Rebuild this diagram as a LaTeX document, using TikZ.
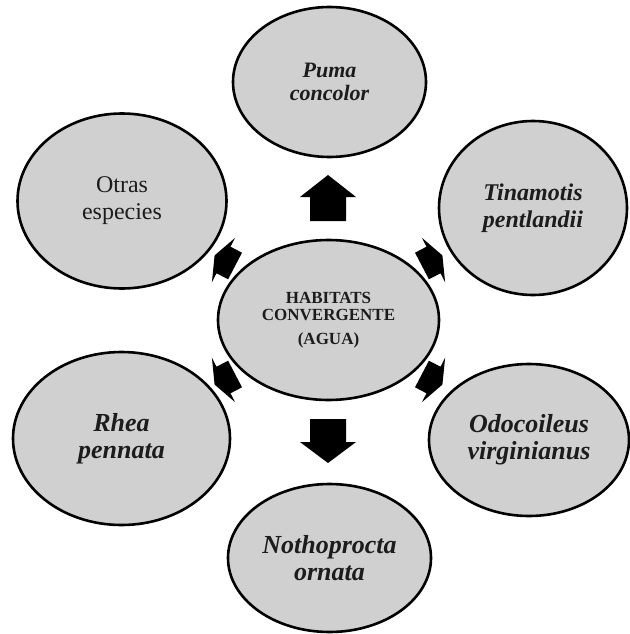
\documentclass[tikz,border=0pt]{standalone}
\usepackage{fontspec}
\setmainfont{Liberation Serif}
\usetikzlibrary{shapes.geometric}
\definecolor{ellfill}{RGB}{208,208,208}
\definecolor{txt}{RGB}{28,28,28}
\tikzset{
  oval/.style={ellipse, draw=black, line width=2.6pt, fill=ellfill, inner sep=0pt, align=center, text=txt},
  species/.style={oval, font=\bfseries\itshape\fontsize{26}{27}\selectfont},
  blockarr/.style={fill=black, draw=none},
}
\begin{document}
\begin{tikzpicture}[x=1pt,y=-1pt]
\useasboundingbox (0,0) rectangle (629,634);
% central node
\node[oval, minimum width=221pt, minimum height=160pt, font=\bfseries\fontsize{17}{17}\selectfont] (hab) at (328.5,320) {HABITATS\\CONVERGENTE\\[7pt](AGUA)};
% outer nodes
\node[species, minimum width=193pt, minimum height=150pt, font=\bfseries\itshape\fontsize{22}{23}\selectfont] (puma) at (329.5,82) {Puma\\concolor};
\node[species, minimum width=188pt, minimum height=174pt, font=\bfseries\itshape\fontsize{24}{27}\selectfont] (tina) at (533,208) {Tinamotis\\pentlandii};
\node[species, minimum width=200pt, minimum height=152pt] (odo) at (529,440) {Odocoileus\\virginianus};
\node[species, minimum width=203pt, minimum height=148pt] (noth) at (329.5,558) {Nothoprocta\\ornata};
\node[species, minimum width=217pt, minimum height=173pt] (rhea) at (121.5,438.5) {Rhea\\pennata};
\node[oval, minimum width=209pt, minimum height=175pt, font=\fontsize{24}{27}\selectfont] (otras) at (122,201) {Otras\\especies};
% big vertical arrows
\fill[blockarr] (328,175) -- (356,197) -- (346,197) -- (346,221) -- (310,221) -- (310,197) -- (300,197) -- cycle;
\fill[blockarr] (328,463) -- (356,442) -- (346,442) -- (346,419) -- (310,419) -- (310,442) -- (300,442) -- cycle;
% small diagonal arrows (upper-left drawn, others mirrored)
\def\diagarrow{(214.6,255.4) -- (235.1,237.8) -- (230.5,246.7) -- (242.0,252.7) -- (228.1,279.3) -- (216.5,273.3) -- (211.9,282.2) -- cycle}
\fill[blockarr] \diagarrow;
\begin{scope}[shift={(657,0)}, xscale=-1]
  \fill[blockarr] \diagarrow;
\end{scope}
\begin{scope}[shift={(0,640)}, yscale=-1]
  \fill[blockarr] \diagarrow;
\end{scope}
\begin{scope}[shift={(657,640)}, xscale=-1, yscale=-1]
  \fill[blockarr] \diagarrow;
\end{scope}
\end{tikzpicture}
\end{document}
